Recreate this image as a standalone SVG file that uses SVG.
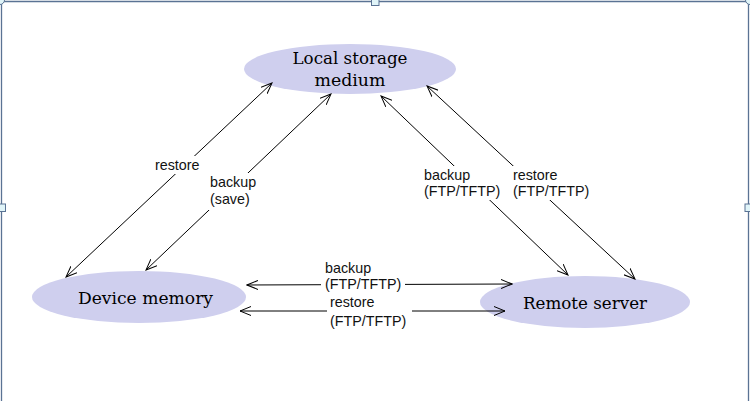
<svg xmlns="http://www.w3.org/2000/svg" width="750" height="401" viewBox="0 0 750 401">
<style>
.node{fill:#cfcfee}
.nt{font-family:"DejaVu Serif","Liberation Serif",serif;font-size:17px;fill:#000;text-anchor:middle}
.lbl{font-family:"Liberation Sans",Arial,sans-serif;font-size:14.3px;fill:#111}
.c{stroke:#000;stroke-width:1;fill:none;marker-start:url(#ah);marker-end:url(#ah)}
.frame{fill:none;stroke:#5a7394;stroke-width:1.3}
.hd{fill:#e0f4f8;stroke:#5a7394;stroke-width:1}
.bg{fill:#fff}
</style>
<defs>
<marker id="ah" viewBox="0 0 12 10" refX="11" refY="5" markerWidth="12" markerHeight="10" markerUnits="userSpaceOnUse" orient="auto-start-reverse">
<path d="M0,0.5 L11,5 L0,9.5" fill="none" stroke="#000" stroke-width="1"/>
</marker>
</defs>
<rect width="750" height="401" fill="#fff"/>
<g id="frame">
<line class="frame" x1="1.5" y1="1.5" x2="1.5" y2="401"/>
<line class="frame" x1="748.5" y1="1.5" x2="748.5" y2="401"/>
<line class="frame" x1="1.5" y1="1.5" x2="748.5" y2="1.5"/>
<rect class="hd" x="371.5" y="-2" width="7.5" height="7.5"/>
<rect class="hd" x="-2" y="204" width="7.5" height="7.5"/>
<rect class="hd" x="745" y="204" width="7.5" height="7.5"/>
<circle class="hd" cx="0" cy="0" r="4.5"/>
<circle class="hd" cx="750" cy="0" r="4.5"/>
</g>
<g id="local-storage">
<ellipse class="node" cx="350" cy="69" rx="106" ry="25"/>
<text class="nt" x="350" y="64" textLength="115" lengthAdjust="spacingAndGlyphs">Local storage</text>
<text class="nt" x="350" y="86" textLength="71" lengthAdjust="spacingAndGlyphs">medium</text>
</g>
<g id="device-memory">
<ellipse class="node" cx="139" cy="297" rx="107" ry="26"/>
<text class="nt" x="145.5" y="304" textLength="135" lengthAdjust="spacingAndGlyphs">Device memory</text>
</g>
<g id="remote-server">
<ellipse class="node" cx="585" cy="302" rx="105" ry="26"/>
<text class="nt" x="585" y="309" textLength="124" lengthAdjust="spacingAndGlyphs">Remote server</text>
</g>
<g id="connectors">
<line class="c" x1="66" y1="277" x2="272" y2="83"/>
<line class="c" x1="146" y1="270" x2="331" y2="94"/>
<line class="c" x1="568" y1="275" x2="381" y2="96"/>
<line class="c" x1="635" y1="279" x2="427" y2="86"/>
<line class="c" x1="247" y1="285" x2="512" y2="284"/>
<line class="c" x1="240" y1="311" x2="505" y2="311"/>
<rect class="bg" x="152" y="156" width="50" height="18"/>
<rect class="bg" x="207" y="173" width="52" height="37"/>
<rect class="bg" x="421" y="166" width="82" height="34"/>
<rect class="bg" x="510" y="166" width="82" height="34"/>
<rect class="bg" x="321" y="277" width="84" height="16"/>
<rect class="bg" x="327" y="303" width="85" height="26"/>
</g>
<g id="labels">
<text class="lbl" x="155" y="170">restore</text>
<text class="lbl" x="210" y="187">backup</text>
<text class="lbl" x="210" y="204">(save)</text>
<text class="lbl" x="424" y="180">backup</text>
<text class="lbl" x="424" y="196">(FTP/TFTP)</text>
<text class="lbl" x="513" y="180">restore</text>
<text class="lbl" x="513" y="196">(FTP/TFTP)</text>
<text class="lbl" x="325" y="273">backup</text>
<text class="lbl" x="325" y="289">(FTP/TFTP)</text>
<text class="lbl" x="330" y="307">restore</text>
<text class="lbl" x="330" y="326">(FTP/TFTP)</text>
</g>
</svg>
